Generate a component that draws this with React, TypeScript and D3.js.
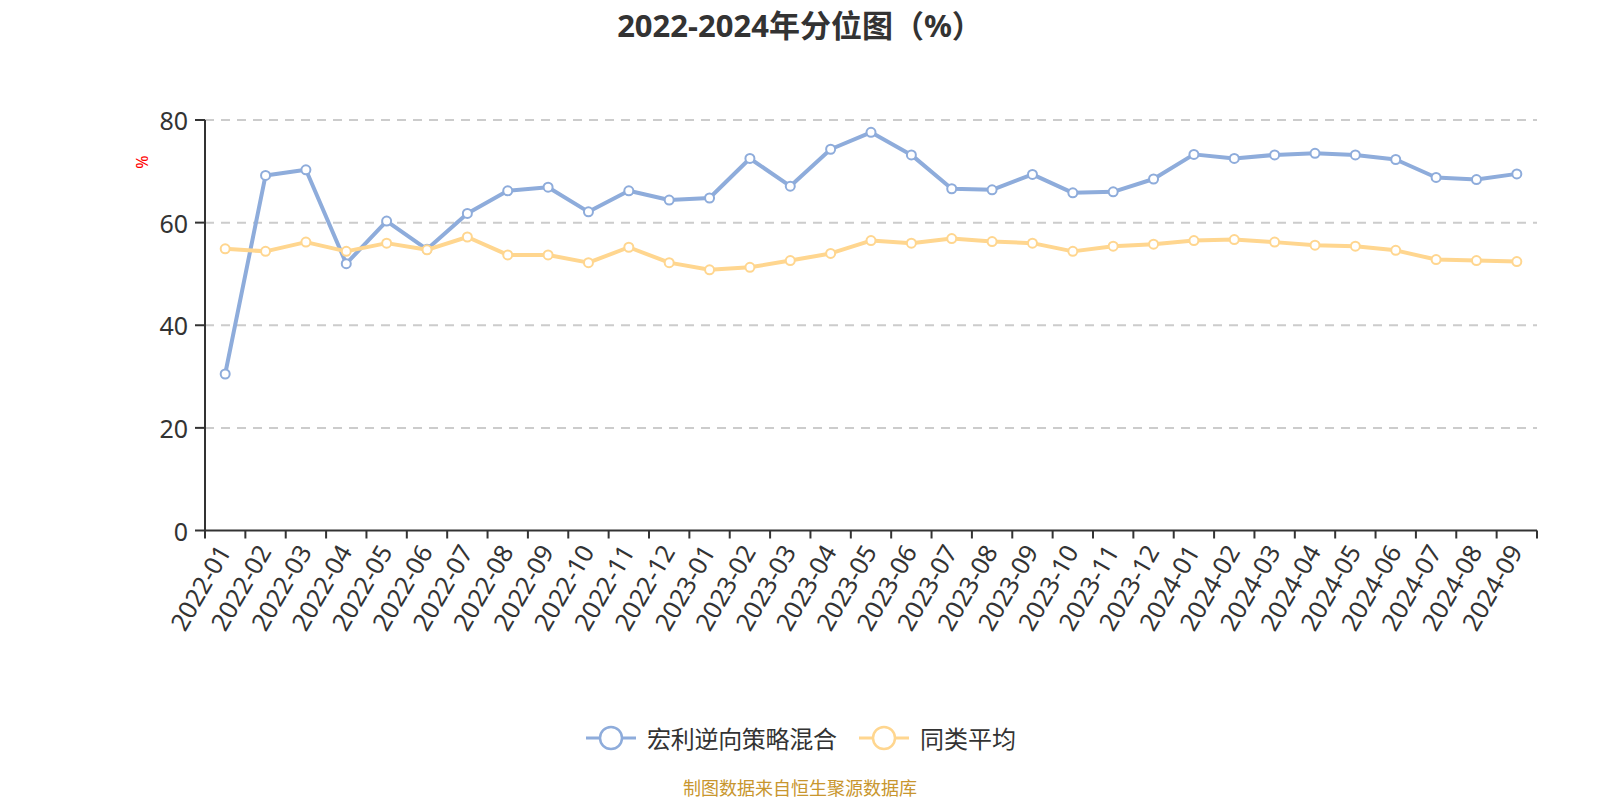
import React from "react";
import * as d3 from "d3";

const categories = [
  "2022-01","2022-02","2022-03","2022-04","2022-05","2022-06","2022-07","2022-08","2022-09","2022-10","2022-11","2022-12",
  "2023-01","2023-02","2023-03","2023-04","2023-05","2023-06","2023-07","2023-08","2023-09","2023-10","2023-11","2023-12",
  "2024-01","2024-02","2024-03","2024-04","2024-05","2024-06","2024-07","2024-08","2024-09",
];
const fundValues = [
  30.5, 69.2, 70.3, 52.0, 60.3, 54.8, 61.8, 66.2, 66.9, 62.1, 66.2, 64.4,
  64.8, 72.5, 67.1, 74.3, 77.6, 73.2, 66.6, 66.4, 69.4, 65.8, 66.0, 68.5,
  73.3, 72.5, 73.2, 73.5, 73.2, 72.3, 68.8, 68.4, 69.5,
];
const avgValues = [
  54.9, 54.4, 56.2, 54.4, 56.0, 54.7, 57.2, 53.7, 53.7, 52.2, 55.2, 52.2,
  50.8, 51.3, 52.6, 54.0, 56.5, 56.0, 56.9, 56.3, 56.0, 54.4, 55.4, 55.8,
  56.5, 56.7, 56.2, 55.6, 55.4, 54.6, 52.8, 52.6, 52.4,
];
const yTicks = [0, 20, 40, 60, 80];
const seriesNames = ["宏利逆向策略混合", "同类平均"];
const titleText = "2022-2024年分位图（%）";
const footerText = "制图数据来自恒生聚源数据库";

const W = 1600;
const H = 800;
const left = 205;
const right = 1537;
const top = 120;
const bottom = 530.5;
const BLUE = "#8eacdb";
const ORANGE = "#ffd68f";
const FONT = "'Noto Sans', 'Open Sans', 'Noto Sans CJK SC', sans-serif";

export default function App() {
  const x = d3.scaleBand<string>().domain(categories).range([left, right]).padding(0);
  const y = d3.scaleLinear().domain([0, 80]).range([bottom, top]);
  const cx = (c: string) => (x(c) as number) + x.bandwidth() / 2;
  const line = d3
    .line<number>()
    .x((_, i) => cx(categories[i]))
    .y((v) => y(v));
  const boundaries = [...categories.map((c) => x(c) as number), right];
  const series = [
    { name: seriesNames[0], values: fundValues, color: BLUE },
    { name: seriesNames[1], values: avgValues, color: ORANGE },
  ];
  const legendItems = [
    { name: seriesNames[0], color: BLUE, x0: 586 },
    { name: seriesNames[1], color: ORANGE, x0: 859 },
  ];
  const legendTextWidths = [190, 96];

  return (
    <div style={{ position: "absolute", left: 0, top: 0 }}>
      <svg width={W} height={H} style={{ display: "block", fontFamily: FONT }}>
        <rect width={W} height={H} fill="#fff" />
        <text x={800} y={37} textAnchor="middle" fontSize={31} fontWeight="bold" fill="#333">
          {titleText}
        </text>
        {/* grid */}
        {yTicks.filter((t) => t !== 0).map((t) => (
          <line key={t} x1={left} x2={right} y1={y(t)} y2={y(t)} stroke="#ccc" strokeWidth={2} strokeDasharray="9,7" />
        ))}
        {/* y axis */}
        <line x1={left} x2={left} y1={top} y2={bottom} stroke="#333" strokeWidth={2} />
        {yTicks.map((t) => (
          <g key={t}>
            <line x1={left - 10} x2={left} y1={y(t)} y2={y(t)} stroke="#333" strokeWidth={2} />
            <text x={left - 17} y={y(t)} textAnchor="end" dominantBaseline="central" fontSize={25} fill="#333">
              {t}
            </text>
          </g>
        ))}
        <text x={142} y={162} transform="rotate(-90 142 162)" textAnchor="middle" dominantBaseline="central" fontSize={16} fill="red">
          %
        </text>
        {/* x axis */}
        <line x1={left} x2={right} y1={bottom} y2={bottom} stroke="#333" strokeWidth={2} />
        {boundaries.map((b, i) => (
          <line key={i} x1={b} x2={b} y1={bottom} y2={bottom + 8} stroke="#333" strokeWidth={2} />
        ))}
        {categories.map((c) => {
          const px = cx(c) - 2;
          const py = bottom + 16;
          return (
            <text key={c} x={px} y={py} transform={`rotate(-60 ${px} ${py})`} textAnchor="end" dominantBaseline="central" fontSize={25} fill="#333">
              {c}
            </text>
          );
        })}
        {/* series */}
        {series.map((s) => (
          <g key={s.name}>
            <path d={line(s.values) || ""} fill="none" stroke={s.color} strokeWidth={4} strokeLinejoin="round" />
            {s.values.map((v, i) => (
              <circle key={i} cx={cx(categories[i])} cy={y(v)} r={4.5} fill="#fff" stroke={s.color} strokeWidth={2} />
            ))}
          </g>
        ))}
        {/* legend */}
        {legendItems.map((l, i) => (
          <g key={l.name}>
            <line x1={l.x0} x2={l.x0 + 50} y1={738} y2={738} stroke={l.color} strokeWidth={3} />
            <circle cx={l.x0 + 25} cy={738} r={11} fill="#fff" stroke={l.color} strokeWidth={2.5} />
            <text x={l.x0 + 61} y={738} dominantBaseline="central" fontSize={24} fill="#333" textLength={legendTextWidths[i]}>
              {l.name}
            </text>
          </g>
        ))}
        <text x={800} y={795} textAnchor="middle" fontSize={18} fill="#c8962e">
          {footerText}
        </text>
      </svg>
    </div>
  );
}
